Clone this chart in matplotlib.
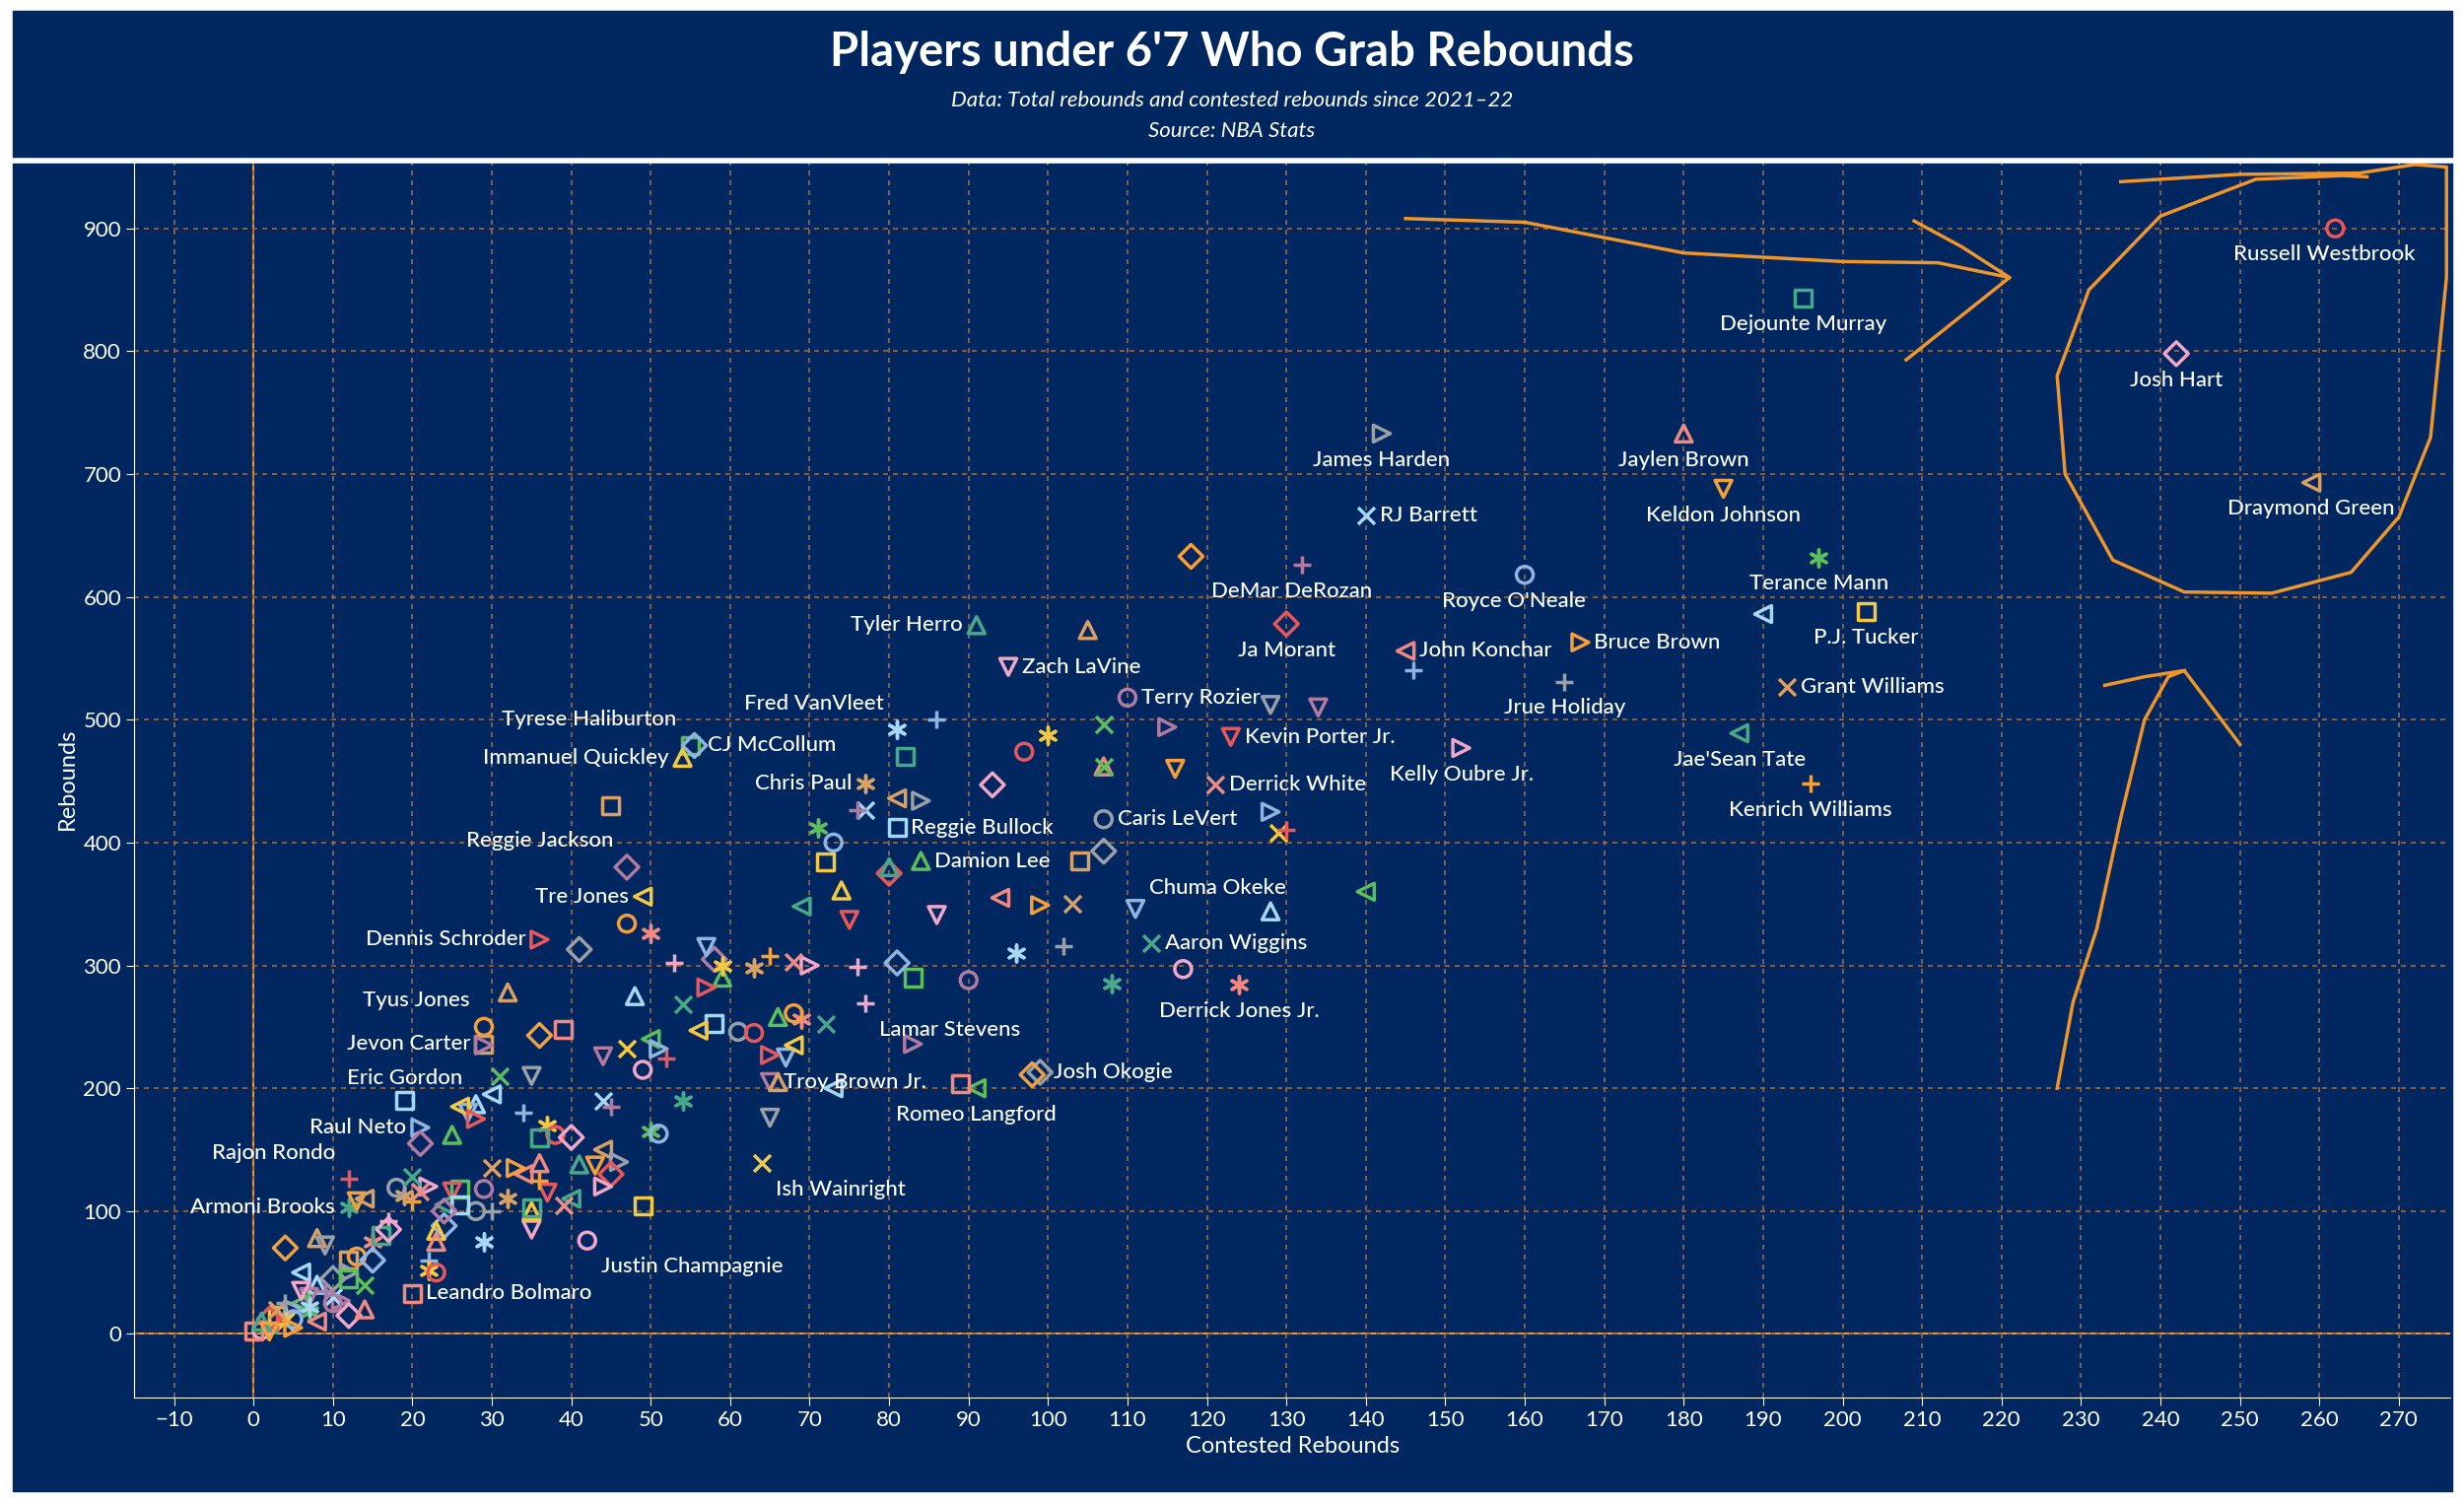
import matplotlib.pyplot as plt
import numpy as np

# labelled players: name, contested rebounds, rebounds, label position
names = ["Russell Westbrook", "Dejounte Murray", "Josh Hart", "Jaylen Brown", "Keldon Johnson",
         "Draymond Green", "James Harden", "RJ Barrett", "DeMar DeRozan", "Terance Mann",
         "Royce O'Neale", "P.J. Tucker", "Ja Morant", "Tyler Herro", "Zach LaVine",
         "John Konchar", "Bruce Brown", "Grant Williams", "Jrue Holiday", "Fred VanVleet",
         "Terry Rozier", "Tyrese Haliburton", "CJ McCollum", "Immanuel Quickley", "Kevin Porter Jr.",
         "Jae'Sean Tate", "Kelly Oubre Jr.", "Derrick White", "Kenrich Williams", "Chris Paul",
         "Caris LeVert", "Reggie Bullock", "Reggie Jackson", "Damion Lee", "Chuma Okeke",
         "Tre Jones", "Dennis Schroder", "Aaron Wiggins", "Lamar Stevens", "Derrick Jones Jr.",
         "Tyus Jones", "Jevon Carter", "Josh Okogie", "Eric Gordon", "Troy Brown Jr.",
         "Romeo Langford", "Raul Neto", "Ish Wainright", "Rajon Rondo", "Armoni Brooks",
         "Justin Champagnie", "Leandro Bolmaro"]
lab_x = [262, 195, 242, 180, 185, 259, 142, 140, 132, 197, 160, 203, 130, 91, 95, 145, 167, 193,
         165, 81, 110, 55, 55.5, 54, 123, 187, 152, 121, 196, 77, 107, 81, 47, 84, 111, 49, 36, 113,
         77, 124, 29, 29, 99, 28, 65, 91, 21, 64, 12, 12, 42, 20]
lab_y = [900, 843, 798, 733, 688, 693, 733, 666, 626, 632, 618, 588, 578, 577, 543, 556, 563, 527,
         531, 492, 518, 479, 479, 469, 486, 489, 477, 447, 448, 448, 419, 412, 380, 385, 346, 356,
         321, 318, 269, 284, 250, 236, 213, 187, 205, 200, 168, 139, 126, 103, 76, 33]
# label placement: 'b' below, 'l' left, 'r' right, 'al'/'ar' above
lab_pos = ["bl", "b", "b", "b", "b", "b", "b", "r", "bl", "b", "bl", "b", "b", "l", "r",
           "r", "r", "r", "b", "al", "r", "al", "r", "l", "r", "b", "b", "r", "b", "l",
           "r", "r", "al", "r", "ar", "l", "l", "r", "br", "b", "al", "l", "r", "al", "r",
           "b", "l", "br", "al", "l", "br", "r"]

# other players (unlabelled)
oth = [(118,633),(105,573),(128,512),(190,586),(115,494),(107,496),(86,500),(100,487),(97,474),
       (82,470),(93,447),(107,462),(116,460),(81,436),(84,434),(77,426),(76,426),(71,412),(73,400),
       (72,384),(80,375),(80,380),(86,341),(94,355),(99,349),(103,350),(102,316),(96,310),(90,288),
       (83,290),(81,302),(74,361),(75,337),(69,348),(70,300),(68,303),(65,308),(63,298),(61,246),
       (58,253),(58,305),(59,290),(57,315),(56,247),(57,282),(54,268),(53,302),(50,326),(47,334),
       (45,430),(41,313),(48,275),(44,226),(50,240),(51,232),(47,232),(52,224),(54,190),(49,215),
       (39,248),(36,243),(32,278),(35,210),(30,195),(29,235),(31,210),(34,180),(37,170),(38,162),
       (36,160),(40,160),(36,139),(43,137),(44,150),(46,140),(44,190),(45,185),(50,165),(51,163),
       (49,104),(45,130),(41,138),(35,85),(34,130),(33,135),(30,135),(30,100),(29,75),(29,118),
       (26,118),(24,88),(23,84),(25,116),(24,105),(22,120),(21,116),(20,108),(19,113),(18,119),
       (19,190),(21,155),(25,162),(27,180),(26,185),(28,175),(20,128),(17,92),(15,75),(13,63),
       (12,60),(10,45),(8,40),(7,30),(6,25),(5,20),(4,10),(3,8),(2,5),(1,3),(0,2),(4,70),(8,78),
       (9,72),(6,50),(11,27),(14,40),(22,60),(22,52),(23,50),(16,80),(17,85),(23,75),(13,108),
       (14,110),(12,50),(10,30),(9,35),(7,18),(5,12),(3,15),(2,12),(1,10),(6,35),(8,10),(5,5),
       (3,20),(4,25),(7,22),(10,25),(12,45),(15,60),(35,100),(37,115),(40,110),(44,120),(39,105),
       (36,125),(32,110),(28,100),(26,105),(24,100),(66,258),(67,225),(68,235),(65,227),(72,252),
       (76,299),(69,256),(68,261),(104,385),(107,393),(128,344),(134,510),(140,360),(128,425),
       (129,408),(130,410),(108,285),(117,297),(89,204),(98,211),(66,205),(65,176),(73,200),
       (83,236),(107,462),(146,540),(59,300),(63,245),(35,103),(12,15),(14,20),(2,2)]

# freehand annotations (data coordinates)
lasso_x = [235, 250, 265, 272, 276, 276, 274, 270, 264, 254, 243, 234, 228, 227, 231, 240, 252, 263, 266]
lasso_y = [938, 944, 945, 952, 950, 860, 730, 665, 620, 603, 604, 630, 700, 780, 850, 910, 940, 943, 942]
arr1_x = [145, 160, 180, 200, 212, 221, 208]
arr1_y = [908, 905, 880, 873, 872, 860, 793]
arr1h_x = [209, 215, 221]
arr1h_y = [906, 885, 860]
arr2_x = [227, 229, 232, 235, 238, 241, 243, 250]
arr2_y = [200, 270, 330, 420, 500, 535, 540, 480]
arr2h_x = [233, 238, 243]
arr2h_y = [528, 535, 540]

navy = "#00275f"
orange = "#f0952a"
colors = ["#e8585a", "#a6d8f5", "#f2a7c8", "#5cbf5c", "#f5a03a", "#f5c842", "#9aa0a8",
          "#4aa88a", "#b07aa1", "#f08a80", "#8fb5e0", "#d9a066"]
markers = ["o", "s", "D", "^", "v", "<", ">", "x", "+", (6, 2, 0)]

plt.rcParams['font.family'] = ['Lato', 'DejaVu Sans']
fig = plt.figure(figsize=(25, 15.25), dpi=100, facecolor="white")
fig.patches.append(plt.Rectangle((0.005, 0.008), 0.99, 0.985, transform=fig.transFigure,
                                 color=navy, zorder=-10))
fig.lines.append(plt.Line2D([0.005, 0.995], [0.893, 0.893], transform=fig.transFigure,
                            color="white", lw=4))
fig.text(0.5, 0.965, "Players under 6'7 Who Grab Rebounds", color="white", fontsize=34,
         fontweight="bold", ha="center", va="center")
fig.text(0.5, 0.933, "Data: Total rebounds and contested rebounds since 2021\u201322", color="white",
         fontsize=16, style="italic", ha="center", va="center")
fig.text(0.5, 0.913, "Source: NBA Stats", color="white", fontsize=16, style="italic",
         ha="center", va="center")

ax = fig.add_axes([0.0545, 0.07, 0.94, 0.823])
ax.set_facecolor(navy)

allx = lab_x + [p[0] for p in oth]
ally = lab_y + [p[1] for p in oth]
for i, (x, y) in enumerate(zip(allx, ally)):
    m = markers[i % len(markers)]
    c = colors[(i * 7) % len(colors)]
    if m in ("x", "+") or isinstance(m, tuple):
        ax.scatter(x, y, marker=m, s=150, color=c, linewidths=2.5, zorder=3)
    else:
        ax.scatter(x, y, marker=m, s=150, facecolors="none", edgecolors=c, linewidths=2.5, zorder=3)

for n, x, y, p in zip(names, lab_x, lab_y, lab_pos):
    if p == "b":
        ax.annotate(n, (x, y), xytext=(0, -12), textcoords="offset points", ha="center", va="top")
    elif p == "bl":
        ax.annotate(n, (x, y), xytext=(-8, -12), textcoords="offset points", ha="center", va="top")
    elif p == "br":
        ax.annotate(n, (x, y), xytext=(10, -12), textcoords="offset points", ha="left", va="top")
    elif p == "r":
        ax.annotate(n, (x, y), xytext=(10, 0), textcoords="offset points", ha="left", va="center")
    elif p == "l":
        ax.annotate(n, (x, y), xytext=(-10, 0), textcoords="offset points", ha="right", va="center")
    elif p == "ar":
        ax.annotate(n, (x, y), xytext=(10, 8), textcoords="offset points", ha="left", va="bottom")
    else:
        ax.annotate(n, (x, y), xytext=(-10, 12), textcoords="offset points", ha="right", va="bottom")
for t in ax.texts:
    t.set_color("white")
    t.set_fontsize(16)
    t.set_fontweight("medium")

ax.plot(lasso_x, lasso_y, color=orange, lw=2.5)
ax.plot(arr1_x, arr1_y, color=orange, lw=2.5)
ax.plot(arr1h_x, arr1h_y, color=orange, lw=2.5)
ax.plot(arr2_x, arr2_y, color=orange, lw=2.5)
ax.plot(arr2h_x, arr2h_y, color=orange, lw=2.5)

ax.axvline(0, color=orange, lw=1.5, zorder=1)
ax.axhline(0, color=orange, lw=1.5, zorder=1)
ax.set_xlim(-15, 276.5)
ax.set_ylim(-52, 955)
ax.set_xticks(np.arange(-10, 271, 10))
ax.set_yticks(np.arange(0, 901, 100))
ax.grid(True, color="#a0683a", ls=(0, (3, 3)), lw=1.2, zorder=0)
ax.tick_params(colors="white", labelsize=16, length=6)
for s in ["top", "right"]:
    ax.spines[s].set_visible(False)
for s in ["left", "bottom"]:
    ax.spines[s].set_color("white")
ax.set_xlabel("Contested Rebounds", color="white", fontsize=17)
ax.set_ylabel("Rebounds", color="white", fontsize=17)

fig.savefig("out.png", dpi=100, facecolor=fig.get_facecolor())
